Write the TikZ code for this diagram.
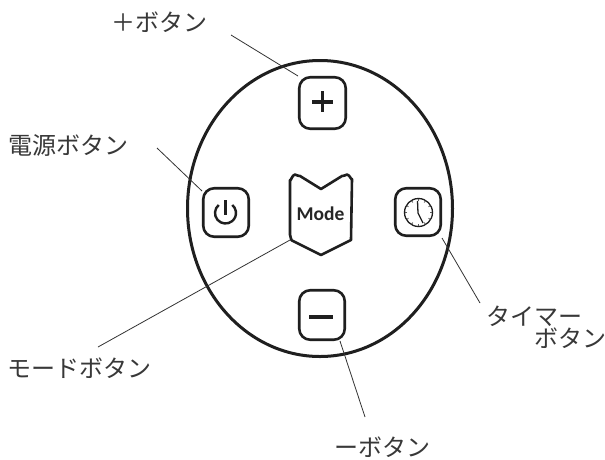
\documentclass[tikz,border=0pt]{standalone}
\usepackage{fontspec}
\usetikzlibrary{shapes.geometric}
\setmainfont{Noto Sans}
\newfontfamily\jpfont{Noto Sans CJK JP}
\newfontfamily\modefont{Carlito}
\tikzset{
  x=1pt,y=-1pt,
  btn/.style={draw=black!88,line width=2.6pt,rounded corners=11pt,inner sep=0pt,fill=white},
  lead/.style={line width=0.8pt,draw=black!80},
  lbl/.style={font=\jpfont\fontsize{24}{28}\selectfont,text=black!78,inner sep=0pt,align=left},
  glyph/.style={line width=2.4pt,draw=black!88},
}
\begin{document}
\begin{tikzpicture}
\useasboundingbox (0,0) rectangle (605,459);
\fill[white] (0,0) rectangle (605,459);
\coordinate (pe) at (231,35);
\coordinate (we) at (157,148);
\coordinate (me) at (98,347);
\coordinate (te) at (480,303);
\coordinate (ne) at (365,417);
\node[draw=black!88,line width=3pt,ellipse,minimum width=265pt,minimum height=296pt,inner sep=0pt] (body) at (320,208.5) {};
\node[btn,minimum width=46.5pt,minimum height=51.5pt] (plus) at (322.5,103) {};
\node[btn,minimum width=45.5pt,minimum height=48.5pt] (power) at (226,212.5) {};
\node[btn,minimum width=45.5pt,minimum height=47.5pt] (timer) at (418,212) {};
\node[btn,minimum width=45.5pt,minimum height=49.5pt] (minus) at (322,315) {};
\coordinate (modetl) at (290,240);
\draw[draw=black!88,line width=2.6pt,fill=white,line join=round] (290,180) to[out=-85,in=180] (295,174.5) to[out=0,in=-155] (300,176) -- (321,189) -- (342,176) to[out=-25,in=180] (347,174.5) to[out=0,in=-90] (352,179) -- (351,240) -- (321,255) -- (293,241) to[out=-150,in=90] (290,235) -- cycle;
\node[font=\modefont\bfseries\fontsize{19.5}{21}\selectfont,text=black!85,inner sep=0pt] (mode) at (320.5,214) {Mode};
\draw[lead] (pe) -- (298,76);
\draw[lead] (we) -- (202,191);
\draw[lead] (me) -- (modetl);
\draw[lead] (te) -- (442,238);
\draw[lead] (ne) -- (340,341);
\draw[line width=3.4pt,draw=black!88] (312,102) -- (333,102) (322.5,91) -- (322.5,112);
\draw[line width=3.4pt,draw=black!88] (309,317) -- (333,317);
\draw[glyph] (225.5,200) -- (225.5,215);
\draw[glyph] (225.5,213) ++(130:10.5pt) arc[start angle=130,end angle=410,radius=10.5pt];
\node[draw=black!88,line width=1.3pt,circle,minimum size=28pt,inner sep=0pt] (clock) at (418.5,212.5) {};
\foreach \a in {0,30,...,330}{\draw[line width=0.8pt,draw=black!65] (418.5,212.5) ++(\a:11.5pt) -- ++(\a:2pt);}
\draw[line width=1.3pt,draw=black!88,line join=round] (417.5,201) -- (418,213) -- (423,223);
\node[lbl,anchor=west] (tplus) at (111,22) {＋ボタン};
\node[lbl,anchor=west] (tpower) at (8,145) {電源ボタン};
\node[lbl,anchor=west] (tmode) at (7,368) {モードボタン};
\node[lbl,anchor=west] (ttimer1) at (486,316) {タイマー};
\node[lbl,anchor=west] (ttimer2) at (534,338) {ボタン};
\node[lbl,anchor=west] (tminus) at (334,447) {ーボタン};
\end{tikzpicture}
\end{document}
